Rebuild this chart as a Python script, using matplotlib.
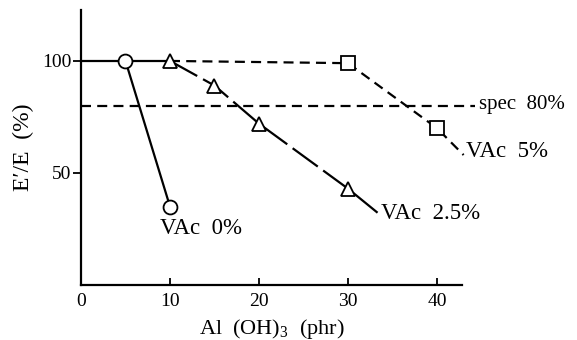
import matplotlib
matplotlib.use("Agg")
import matplotlib.pyplot as plt

plt.rcParams['font.family'] = ['Liberation Serif', 'DejaVu Serif']
plt.rcParams['mathtext.fontset'] = 'custom'
plt.rcParams['mathtext.rm'] = 'Liberation Serif'

# data
common_x = [0, 10]
common_y = [100, 100]
vac0_x = [5, 10]
vac0_y = [100, 35]
vac25_x = [10, 15, 20, 30]
vac25_y = [100, 89, 72, 43]
vac5_x = [10, 30, 40]
vac5_y = [100, 99, 70]
spec_y = 80
xticks = [0, 10, 20, 30, 40]
yticks = [50, 100]
# label anchor points (data coords) and leader end points
vac25_tail = (33.4, 32)
vac5_tail = (43.0, 58)
spec_end = 44.3

fig = plt.figure(figsize=(5.77, 3.40), dpi=100)
ax = fig.add_axes([0.1404, 0.162, 0.660, 0.809])
ax.set_xlim(0, 42.8)
ax.set_ylim(0, 122.8)

lw = 1.6
# spec line
ax.plot([0, spec_end], [spec_y, spec_y], color='black', lw=lw,
        dashes=(4.5, 2.8), clip_on=False)
# common solid part
ax.plot(common_x, common_y, color='black', lw=lw, solid_capstyle='butt')
# VAc 5%
ax.plot(vac5_x + [vac5_tail[0]], vac5_y + [vac5_tail[1]], color='black', lw=lw,
        dashes=(4.5, 2.8), clip_on=False)
ax.plot(vac5_x[1:], vac5_y[1:], ls='none', marker='s', ms=9.5, mfc='white',
        mec='black', mew=1.3, clip_on=False, zorder=5)
# VAc 2.5%
ax.plot(vac25_x + [vac25_tail[0]], vac25_y + [vac25_tail[1]], color='black', lw=lw,
        dashes=(14, 3), clip_on=False)
ax.plot(vac25_x, vac25_y, ls='none', marker='^', ms=10.5, mfc='white',
        mec='black', mew=1.3, zorder=5)
# VAc 0%
ax.plot(vac0_x, vac0_y, color='black', lw=lw)
ax.plot(vac0_x, vac0_y, ls='none', marker='o', ms=10, mfc='white',
        mec='black', mew=1.3, zorder=6)

fs = 16.5
ax.text(8.9, 25, 'VAc  0%', fontsize=fs, va='center', ha='left')
ax.text(vac25_tail[0] + 0.3, vac25_tail[1], 'VAc  2.5%', fontsize=fs, va='center', ha='left')
ax.text(vac5_tail[0] + 0.3, vac5_tail[1] + 1.5, 'VAc  5%', fontsize=fs, va='center', ha='left')
ax.text(spec_end + 0.4, spec_y + 0.5, 'spec  80%', fontsize=fs - 1.5, va='center', ha='left')

for s in ['top', 'right']:
    ax.spines[s].set_visible(False)
for s in ['left', 'bottom']:
    ax.spines[s].set_linewidth(1.6)

ax.set_xticks(xticks)
ax.set_yticks(yticks)
ax.tick_params(axis='x', direction='in', length=5, width=1.3, labelsize=14, pad=6)
ax.tick_params(axis='y', direction='out', length=6, width=1.3, labelsize=14, pad=1)

ax.set_xlabel('Al  (OH)$_3$  (phr)', fontsize=16, labelpad=5)
ax.set_ylabel('E\u2032/E  (%)', fontsize=17, labelpad=6)

fig.savefig('out.png', dpi=100)
